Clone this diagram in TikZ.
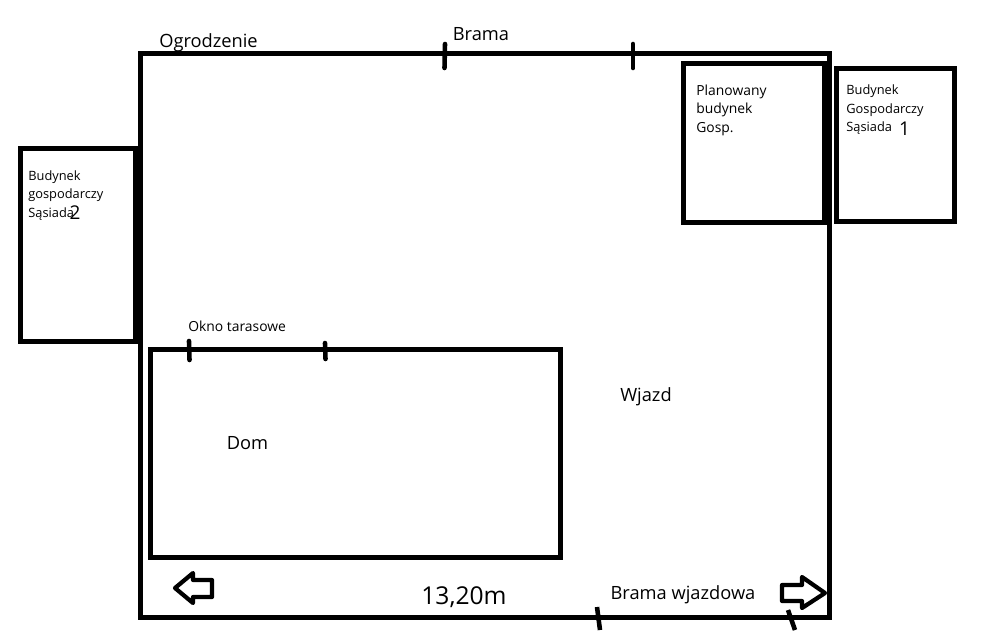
\documentclass[tikz,border=0pt]{standalone}
\usepackage{fontspec}
\setmainfont{Open Sans}
\tikzset{
	wall/.style={line width=2.84pt,line join=miter},
	tick/.style={line width=2.6pt,line cap=round},
	small/.style={font=\fontsize{7.9}{10.5}\selectfont,align=left,anchor=north west,inner sep=0pt},
	narrow/.style={small,font=\fontsize{7.3}{10.5}\selectfont},
	big/.style={font=\fontsize{10.4}{12}\selectfont,inner sep=0pt},
}
\begin{document}
\begin{tikzpicture}[x=0.02cm,y=-0.02cm]
	\useasboundingbox (0,0) rectangle (1008,630);
	% plot and buildings
	\draw[wall] (140.5,53.5) rectangle (829.5,617.5);
	\draw[wall] (20.5,148.5) rectangle (135.5,341.5);
	\draw[wall] (683.5,63.5) rectangle (824.5,222.5);
	\draw[wall] (836.5,68.5) rectangle (954.5,221.5);
	\draw[wall] (150.5,349.5) rectangle (560,557);
	% gates and window
	\draw[tick] (445,44) -- (444.5,68);
	\draw[tick] (633,44) -- (633,68);
	\draw[tick] (189,341) -- (189.5,360);
	\draw[tick] (325,343) -- (325.5,359);
	\draw[tick,line cap=butt] (597,607) -- (600,630);
	\draw[tick,line cap=butt] (788,610) -- (795,630);
	% arrows
	\draw[wall,line width=2.4pt,line join=round] (175,588) -- (193,573) -- (193,580) -- (212,580) -- (212,597) -- (193,597) -- (193,603) -- cycle;
	\draw[wall,line width=2.4pt,line join=round] (782,585) -- (802,585) -- (802,577) -- (825,593) -- (802,608) -- (802,601) -- (782,601) -- cycle;
	% labels
	\node[big] (ogrodzenie) at (208.5,42.5) {Ogrodzenie};
	\node[big] (brama) at (481,34) {Brama};
	\node[big] (dom) at (247.5,443.5) {Dom};
	\node[big] (wjazd) at (646,396.5) {Wjazd};
	\node[big] (bramaw) at (683,595) {Brama wjazdowa};
	\node[big,font=\fontsize{14}{16}\selectfont] (wymiar) at (464,597) {13,20m};
	\node[small] (okno) at (188,321) {Okno tarasowe};
	\node[small] (planowany) at (696,84.5) {Planowany\\budynek\\Gosp.};
	\node[narrow] (sasiad1) at (846,84.5) {Budynek\\Gospodarczy\\Sąsiada};
	\node[narrow] (sasiad2) at (28,170) {Budynek\\gospodarczy\\Sąsiada};
	\node[big,font=\fontsize{10.8}{12}\selectfont] (num1) at (904.5,129) {1};
	\node[big,font=\fontsize{10.8}{12}\selectfont] (num2) at (75,213) {2};
\end{tikzpicture}
\end{document}
